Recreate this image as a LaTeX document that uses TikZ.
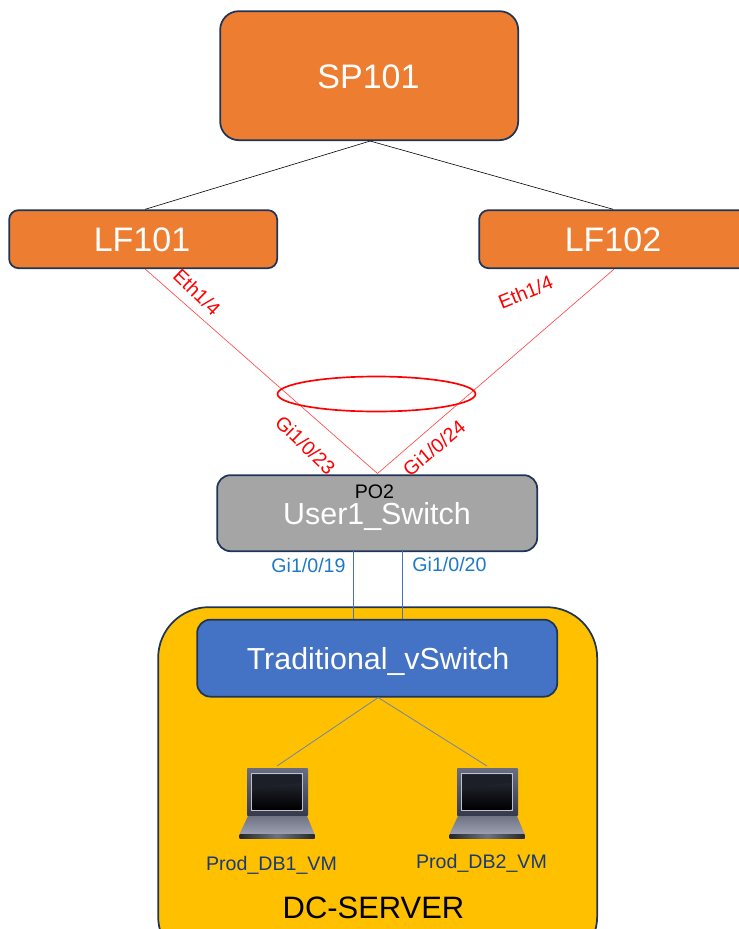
\documentclass[tikz,border=0pt]{standalone}
\usepackage{fontspec}
\setmainfont{Liberation Sans}
\usetikzlibrary{shapes.geometric}
\newcommand{\fA}{\fontsize{25.5pt}{30pt}\selectfont}
\newcommand{\fB}{\fontsize{22.8pt}{27pt}\selectfont}
\newcommand{\fC}{\fontsize{14.7pt}{17pt}\selectfont}
\newcommand{\fD}{\fontsize{23.2pt}{27pt}\selectfont}
\definecolor{navy}{HTML}{1F3557}
\definecolor{orangeb}{HTML}{ED7D31}
\definecolor{greyb}{HTML}{A5A5A5}
\definecolor{blueb}{HTML}{4472C4}
\definecolor{goldb}{HTML}{FFC000}
\definecolor{linkblue}{HTML}{1F78C8}
\definecolor{lapd}{HTML}{3F4358}
\definecolor{lapm}{HTML}{8A8FA3}
\definecolor{labtext}{HTML}{1A3A78}
\tikzset{
  x=0.75pt,y=-0.75pt,
  box/.style={draw=navy,line width=1.3pt,rounded corners=#1,inner sep=0pt},
  box/.default=10pt,
  lbl/.style={inner sep=0pt,text=white},
  redlink/.style={draw=red!70!white,line width=0.5pt},
  bluelink/.style={draw=blueb,line width=0.6pt},
  greylink/.style={draw=blueb!70!black!70!white,line width=0.6pt},
  blacklink/.style={draw=black,line width=0.45pt},
  redlab/.style={inner sep=0pt,text=red,font=\fC},
  bluelab/.style={inner sep=0pt,text=linkblue,font=\fC},
}
\newcommand{\laptop}[3]{%
  \begin{scope}[shift={(#1,#2)}]
    \shade[top color=lapm!55!lapd,bottom color=lapd!85!black,rounded corners=0.6pt] (-30,0) rectangle (31,48);
    \fill[lapm!55!white] (-26.5,5) rectangle (26,43);
    \shade[top color=lapd!70!black,bottom color=black] (-25,6.5) rectangle (24.5,41.5);
    \fill[black!55!lapd] (-25,6.5) -- (24.5,6.5) -- (24.5,15) .. controls (5,16) and (-10,18) .. (-25,23) -- cycle;
    \shade[top color=lapm!80!black,bottom color=lapm!85!white] (-29,48) -- (30,48) -- (37.5,66) -- (-37.5,66) -- cycle;
    \shade[left color=black!85,right color=black!85,middle color=lapm!80!black] (-37.5,66) rectangle (37.5,70);
    \coordinate (#3) at (0,-2);
  \end{scope}}
\begin{document}
\begin{tikzpicture}
\useasboundingbox (0,0) rectangle (739,929);
\clip (0,0) rectangle (739,929);
% DC server container
\node[box=38pt,fill=goldb,minimum width=439pt*0.75,minimum height=360pt*0.75,anchor=north west] (dc) at (157.3,606.3) {};
\node[inner sep=0pt,text=black,font=\fD] (dclab) at (373.5,908) {DC-SERVER};
% Switches
\node[box=14pt,fill=orangeb,minimum width=298pt*0.75,minimum height=129pt*0.75,anchor=north west] (sp) at (219.3,10.3) {};
\node[lbl,font=\fA] (splab) at (368.5,77) {SP101};
\node[box=7pt,fill=orangeb,minimum width=268pt*0.75,minimum height=58pt*0.75,anchor=north west] (lf1) at (8.3,209.3) {};
\node[lbl,font=\fA] (lf1lab) at (142,240) {LF101};
\node[box=7pt,fill=orangeb,minimum width=270pt*0.75,minimum height=58pt*0.75,anchor=north west] (lf2) at (478.3,209.3) {};
\node[lbl,font=\fA] (lf2lab) at (613,240) {LF102};
\node[box=10pt,fill=greyb,minimum width=320pt*0.75,minimum height=76pt*0.75,anchor=north west] (usw) at (216.3,474.3) {};
\node[lbl,font=\fB] (uswlab) at (377,516) {User1\_Switch};
\node[inner sep=0pt,font=\fC,text=black] (po) at (374.5,492) {PO2};
\node[box=10pt,fill=blueb,minimum width=360pt*0.75,minimum height=77pt*0.75,anchor=north west] (vsw) at (196.3,618.8) {};
\node[lbl,font=\fB] (vswlab) at (378,661) {Traditional\_vSwitch};
% links
\draw[blacklink] ([xshift=0.75pt]sp.south) -- ([xshift=1.5pt]lf1.north);
\draw[blacklink] ([xshift=0.75pt]sp.south) -- ([xshift=-0.75pt]lf2.north);
\coordinate (apex) at (377.5,473.5);
\draw[redlink] ([xshift=1.5pt]lf1.south) -- (apex);
\draw[redlink] (lf2.south) -- (apex);
\node[ellipse,draw=red,line width=1.25pt,inner sep=0pt,minimum width=198pt*0.75,minimum height=35pt*0.75] (po2ring) at (376.5,394) {};
\coordinate (u1) at (353.5,551);
\coordinate (u2) at (402.5,551);
\coordinate (v1) at (353.5,619);
\coordinate (v2) at (402.5,619);
\draw[bluelink] (u1) -- (v1);
\draw[bluelink] (u2) -- (v2);
% laptops
\laptop{277}{768}{lap1}
\laptop{487}{768}{lap2}
\draw[greylink] ([xshift=0.75pt]vsw.south) -- (lap1);
\draw[greylink] ([xshift=0.75pt]vsw.south) -- (lap2);
\node[inner sep=0pt,font=\fC,text=labtext] (db1) at (271.5,865) {Prod\_DB1\_VM};
\node[inner sep=0pt,font=\fC,text=labtext] (db2) at (481.5,863) {Prod\_DB2\_VM};
% port labels
\node[redlab,rotate=-44] (e1) at (197,292) {Eth1/4};
\node[redlab,rotate=22] (e2) at (525.5,292) {Eth1/4};
\node[redlab,rotate=-44] (g23) at (305.5,445) {Gi1/0/23};
\node[redlab,rotate=40] (g24) at (434,448) {Gi1/0/24};
\node[bluelab] (g19) at (308.5,565) {Gi1/0/19};
\node[bluelab] (g20) at (449.5,564) {Gi1/0/20};
\end{tikzpicture}
\end{document}
